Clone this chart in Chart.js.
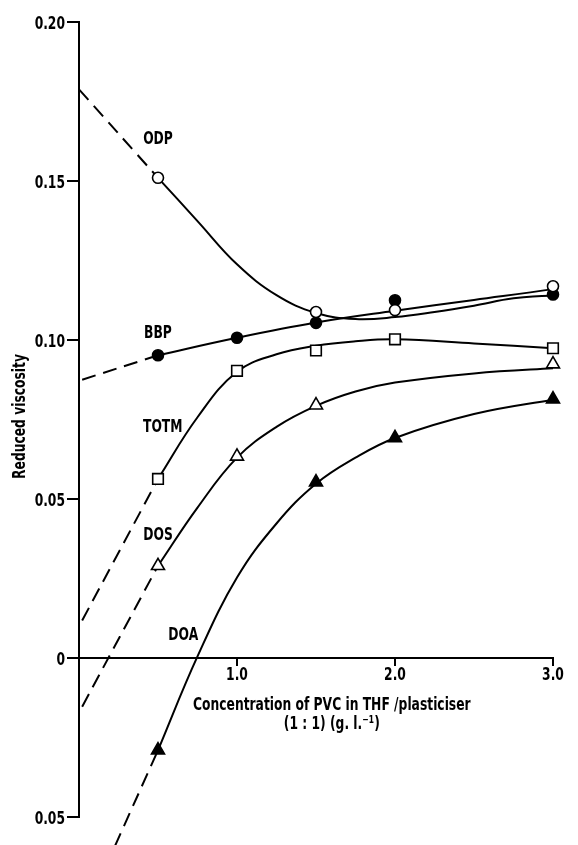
<!DOCTYPE html>
<html>
<head>
<meta charset="utf-8">
<script src="https://cdn.jsdelivr.net/npm/chart.js@4/dist/chart.umd.min.js"></script>
<style>
  html, body { margin: 0; padding: 0; background: #fff; }
  #wrap { width: 578px; height: 845px; position: relative; }
</style>
</head>
<body>
<div id="wrap"><canvas id="grafico"></canvas></div>
<script>
// Ticks
const xTickVals = [1, 2, 3];
const xTickText = ['1.0', '2.0', '3.0'];
const yTickVals = [0.20, 0.15, 0.10, 0.05, 0, -0.05];
const yTickText = ['0.20', '0.15', '0.10', '0.05', '0', '0.05'];

// Measured points (markers)
const odpX = [0.5, 1.5, 2.0, 3.0];
const odpY = [0.151, 0.1088, 0.1094, 0.1169];
const bbpX = [0.5, 1.0, 1.5, 2.0, 3.0];
const bbpY = [0.0952, 0.1007, 0.1054, 0.1125, 0.1143];
const totmX = [0.5, 1.0, 1.5, 2.0, 3.0];
const totmY = [0.0563, 0.0903, 0.0967, 0.1002, 0.0974];
const dosX = [0.5, 1.0, 1.5, 3.0];
const dosY = [0.029, 0.0634, 0.0795, 0.0924];
const doaX = [0.5, 1.5, 2.0, 3.0];
const doaY = [-0.029, 0.0553, 0.0692, 0.0814];

// Fitted curves (solid)
const odpCurveX = [0.5, 0.75, 1.0, 1.25, 1.5, 1.75, 2.0, 2.25, 2.5, 2.75, 3.0, 3.15];
const odpCurveY = [0.151, 0.1374, 0.1238, 0.1141, 0.1085, 0.1066, 0.1072, 0.1088, 0.1108, 0.1131, 0.1139, 0.1128];
const bbpCurveX = [0.5, 1.0, 1.5, 2.0, 2.5, 3.0, 3.11];
const bbpCurveY = [0.0952, 0.1007, 0.1055, 0.1092, 0.1126, 0.1160, 0.1172];
const totmCurveX = [0.5, 0.75, 1.0, 1.25, 1.5, 1.75, 2.0, 2.5, 3.0, 3.16];
const totmCurveY = [0.0563, 0.0757, 0.0900, 0.0955, 0.0982, 0.0996, 0.1002, 0.0989, 0.0974, 0.0969];
const dosCurveX = [0.5, 0.75, 1.0, 1.25, 1.5, 1.75, 2.0, 2.5, 3.0, 3.16];
const dosCurveY = [0.029, 0.0473, 0.0630, 0.0727, 0.0793, 0.0838, 0.0866, 0.0895, 0.0911, 0.0914];
const doaCurveX = [0.5, 0.75, 1.0, 1.25, 1.5, 1.75, 2.0, 2.5, 3.0, 3.16];
const doaCurveY = [-0.029, 0.0005, 0.0253, 0.0423, 0.0548, 0.0630, 0.0692, 0.0767, 0.0812, 0.0824];

// Extrapolations (dashed)
const odpDashX = [0.0, 0.5];
const odpDashY = [0.1788, 0.151];
const bbpDashX = [0.02, 0.5];
const bbpDashY = [0.0875, 0.0952];
const totmDashX = [0.02, 0.5];
const totmDashY = [0.0118, 0.0563];
const dosDashX = [0.02, 0.5];
const dosDashY = [-0.0153, 0.029];
const doaDashX = [0.227, 0.5];
const doaDashY = [-0.0592, -0.029];

// Curve labels
const curveNames = ['ODP', 'BBP', 'TOTM', 'DOS', 'DOA'];
const labelX = [0.5, 0.5, 0.53, 0.5, 0.66];
const labelY = [0.1636, 0.1028, 0.073, 0.0392, 0.0076];

const yTitle = 'Reduced viscosity';
const xTitle = ['Concentration of PVC in THF /plasticiser', '(1 : 1) (g. l.\u207B\u00B9)'];

const FONT = 'bold 18px "DejaVu Sans Condensed", "DejaVu Sans", sans-serif';
const SQZ = 0.76; // letra estrecha como en el original
const pts = (xs, ys) => xs.map((x, i) => ({ x: x, y: ys[i] }));

function curva(xs, ys, dashed) {
  return {
    data: pts(xs, ys),
    showLine: true,
    borderColor: '#000',
    borderWidth: 2,
    borderDash: dashed ? [14, 8] : [],
    pointRadius: 0,
    tension: 0.4,
    clip: false,
    order: 2
  };
}

function marcas(xs, ys, estilo, relleno, radio) {
  return {
    data: pts(xs, ys),
    showLine: false,
    pointStyle: estilo,
    pointRadius: radio,
    pointBackgroundColor: relleno ? '#000' : '#fff',
    pointBorderColor: '#000',
    pointBorderWidth: 1.6,
    clip: false,
    order: 1
  };
}

function texto(ctx, s, px, py, align, rot) {
  ctx.save();
  ctx.translate(px, py);
  if (rot) ctx.rotate(rot);
  ctx.scale(SQZ, 1);
  ctx.textAlign = align;
  ctx.textBaseline = 'alphabetic';
  ctx.fillText(s, 0, 0);
  ctx.restore();
}

// marcas de graduacion como rectangulos rellenos
function raya(ctx, x1, y1, w, h) {
  ctx.fillRect(x1, y1, w, h);
}

const etiquetas = {
  id: 'etiquetas',
  afterDraw(chart) {
    const { ctx, scales: { x, y } } = chart;
    ctx.save();
    ctx.setLineDash([]);
    ctx.globalAlpha = 1;
    ctx.fillStyle = '#000';
    ctx.font = FONT;
    const y0 = y.getPixelForValue(0);
    const ax = x.getPixelForValue(0);
    // marcas y etiquetas de los ejes
    yTickVals.forEach((v, i) => {
      const py = y.getPixelForValue(v);
      raya(ctx, ax - 12, py - 1, 12, 2);
      texto(ctx, yTickText[i], ax - 14, py + 6.5, 'right');
    });
    xTickVals.forEach((v, i) => {
      const px = x.getPixelForValue(v);
      raya(ctx, px - 1, y0, 2, 8);
      texto(ctx, xTickText[i], px, y0 + 22, 'center');
    });
    // nombres de las curvas
    curveNames.forEach((n, i) => {
      texto(ctx, n, x.getPixelForValue(labelX[i]), y.getPixelForValue(labelY[i]) + 6.5, 'center');
    });
    // titulos
    texto(ctx, yTitle, 24.5, y.getPixelForValue(0.075) - 3, 'center', -Math.PI / 2);
    const cx = x.getPixelForValue(1.6);
    texto(ctx, xTitle[0], cx, y0 + 52, 'center');
    texto(ctx, xTitle[1], cx, y0 + 71, 'center');
    ctx.restore();
  }
};

new Chart(document.getElementById('grafico'), {
  type: 'scatter',
  data: {
    datasets: [
      marcas(odpX, odpY, 'circle', false, 5.5),
      marcas(bbpX, bbpY, 'circle', true, 5.5),
      marcas(totmX, totmY, 'rect', false, 7.5),
      marcas(dosX, dosY, 'triangle', false, 7.5),
      marcas(doaX, doaY, 'triangle', true, 7.5),
      curva(odpCurveX, odpCurveY, false),
      curva(bbpCurveX, bbpCurveY, false),
      curva(totmCurveX, totmCurveY, false),
      curva(dosCurveX, dosCurveY, false),
      curva(doaCurveX, doaCurveY, false),
      curva(odpDashX, odpDashY, true),
      curva(bbpDashX, bbpDashY, true),
      curva(totmDashX, totmDashY, true),
      curva(dosDashX, dosDashY, true),
      curva(doaDashX, doaDashY, true)
    ]
  },
  options: {
    responsive: true,
    maintainAspectRatio: false,
    animation: false,
    devicePixelRatio: 1,
    layout: { padding: { left: 0, right: 25, top: 22, bottom: 28 } },
    plugins: { legend: { display: false }, tooltip: { enabled: false } },
    scales: {
      x: {
        type: 'linear',
        position: { y: 0 },
        min: 0,
        max: 3,
        afterBuildTicks: s => { s.ticks = xTickVals.map(v => ({ value: v })); },
        ticks: { display: false },
        grid: { display: false },
        border: { display: true, color: '#000', width: 2 }
      },
      y: {
        min: -0.05,
        max: 0.20,
        afterFit: s => { s.width = 79; },
        afterBuildTicks: s => { s.ticks = yTickVals.map(v => ({ value: v })); },
        ticks: { display: false },
        grid: { display: false },
        border: { display: true, color: '#000', width: 2 }
      }
    }
  },
  plugins: [etiquetas]
});
</script>
</body>
</html>
